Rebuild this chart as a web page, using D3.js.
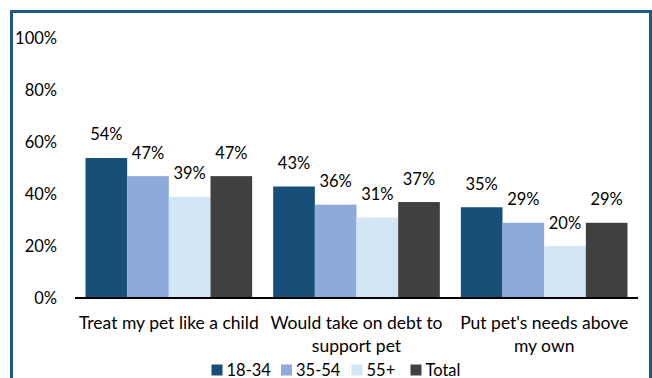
<!DOCTYPE html>
<html><head><meta charset="utf-8">
<script src="https://cdn.jsdelivr.net/npm/d3@7"></script>
<style>body{margin:0;background:#fff}svg{display:block;font-family:Lato,"Open Sans",sans-serif}</style>
</head><body>
<svg id="c" width="652" height="378"></svg>
<script>
const categories = ["Treat my pet like a child", "Would take on debt to\nsupport pet", "Put pet's needs above\nmy own"];
const seriesNames = ["18-34", "35-54", "55+", "Total"];
const s1834 = [54, 43, 35];
const s3554 = [47, 36, 29];
const s55 = [39, 31, 20];
const sTotal = [47, 37, 29];
const seriesValues = [s1834, s3554, s55, sTotal];
const colors = ["#174F78", "#8EA9DB", "#D2E5F5", "#404040"];
const yTicks = [0, 20, 40, 60, 80, 100];

const svg = d3.select("#c");
const fs = 16.5;
const fsCat = 17.5;
svg.append("rect").attr("x",0).attr("y",0).attr("width",652).attr("height",378).attr("fill","#fff");
svg.append("rect").attr("x",11.5).attr("y",11.5).attr("width",639).attr("height",420)
  .attr("fill","none").attr("stroke","#1F5A85").attr("stroke-width",3);

const x0 = d3.scaleBand().domain(categories).range([75,638]).paddingInner(0.112).paddingOuter(0.056);
const x1 = d3.scaleBand().domain(seriesNames).range([0, x0.bandwidth()]);
const y = d3.scaleLinear().domain([0,100]).range([298, 38.7]);

// y tick labels
svg.append("g").selectAll("text").data(yTicks).join("text")
  .attr("x",57).attr("y",d=>y(d)+5.5).attr("text-anchor","end")
  .attr("font-size",fs).attr("fill","#000").text(d=>d+"%");

// bars
categories.forEach((c,ci)=>{
  const g = svg.append("g").attr("transform",`translate(${x0(c)},0)`);
  seriesNames.forEach((s,si)=>{
    const v = seriesValues[si][ci];
    g.append("rect").attr("x",x1(s)).attr("y",y(v)).attr("width",x1.bandwidth()).attr("height",y(0)-y(v)).attr("fill",colors[si]);
    g.append("text").attr("x",x1(s)+x1.bandwidth()/2).attr("y",y(v)-17.5).attr("text-anchor","middle")
      .attr("font-size",fs).attr("fill","#000").text(v+"%");
  });
  const lines = c.split("\n");
  lines.forEach((l,li)=>{
    svg.append("text").attr("x",x0(c)+x0.bandwidth()/2).attr("y",328.5+li*23).attr("text-anchor","middle")
      .attr("font-size",fsCat).attr("fill","#000").text(l);
  });
});

// axis line
svg.append("line").attr("x1",75).attr("x2",638).attr("y1",y(0)).attr("y2",y(0)).attr("stroke","#000").attr("stroke-width",2);

// legend
const legX = [211.5, 281, 351.5, 410.5];
const lg = svg.append("g");
seriesNames.forEach((s,i)=>{
  lg.append("rect").attr("x",legX[i]).attr("y",364.5).attr("width",11).attr("height",11).attr("fill",colors[i]);
  lg.append("text").attr("x",legX[i]+15).attr("y",375.5).attr("font-size",fs).attr("fill","#000").text(s);
});
</script>
</body></html>
